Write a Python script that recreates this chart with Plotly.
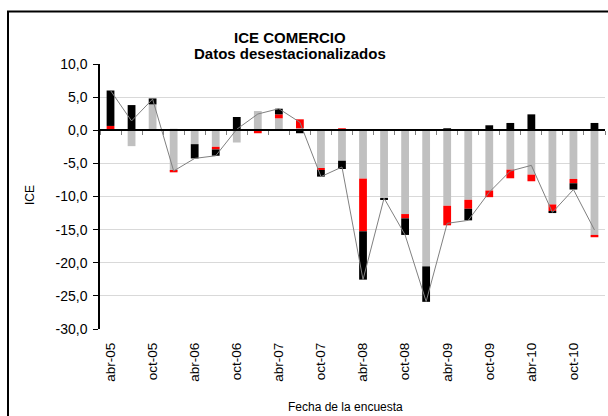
import plotly.graph_objects as go

# Quarterly survey dates (abr-05 ... ene-11)
quarters = ["abr-05", "jul-05", "oct-05", "ene-06", "abr-06", "jul-06", "oct-06", "ene-07",
            "abr-07", "jul-07", "oct-07", "ene-08", "abr-08", "jul-08", "oct-08", "ene-09",
            "abr-09", "jul-09", "oct-09", "ene-10", "abr-10", "jul-10", "oct-10", "ene-11"]

# Components (stacked bars)
gray_vals = [0.0, -2.4, 3.9, -6.1, -2.1, -2.5, -1.85, 2.9,
             1.8, 0.3, -5.7, -4.6, -7.3, -10.3, -12.65, -20.55,
             -11.4, -10.5, -9.1, -5.95, -6.7, -11.2, -7.35, -15.8]
red_vals = [0.65, 0.1, -0.1, -0.25, 0.0, -0.4, 0.0, -0.45,
            0.6, 1.35, -0.3, 0.3, -7.95, 0.15, -0.65, 0.05,
            -2.95, -1.35, -1.0, -1.3, -1.0, -1.0, -0.65, -0.35]
black_vals = [5.35, 3.7, 0.9, 0.2, -2.15, -0.95, 2.0, 0.0,
              0.85, -0.45, -1.0, -1.25, -7.3, -0.1, -2.5, -5.35,
              0.3, -1.75, 0.75, 1.1, 2.4, -0.3, -0.95, 1.1]
# ICE line
ice_vals = [6.0, 1.4, 4.7, -6.15, -4.25, -3.85, 0.15, 2.45,
            3.25, 1.2, -7.0, -5.55, -22.55, -10.25, -15.8, -25.85,
            -14.05, -13.6, -9.35, -6.15, -5.3, -12.4, -8.95, -15.05]

y_tickvals = [10, 5, 0, -5, -10, -15, -20, -25, -30]
y_ticktext = ["10,0", "5,0", "0,0", "-5,0", "-10,0", "-15,0", "-20,0", "-25,0", "-30,0"]

x_pos = list(range(len(quarters)))
label_idx = x_pos[::2]
label_text = [quarters[i] for i in label_idx]

FONT = "Liberation Sans, Arial, sans-serif"

fig = go.Figure()
fig.add_trace(go.Bar(x=x_pos, y=gray_vals, marker=dict(color="#C0C0C0", line=dict(width=0)),
                     showlegend=False, hoverinfo="skip"))
fig.add_trace(go.Bar(x=x_pos, y=red_vals, marker=dict(color="#FF0000", line=dict(width=0)),
                     showlegend=False, hoverinfo="skip"))
fig.add_trace(go.Bar(x=x_pos, y=black_vals, marker=dict(color="#000000", line=dict(width=0)),
                     showlegend=False, hoverinfo="skip"))
fig.add_trace(go.Scatter(x=x_pos, y=ice_vals, mode="lines", xaxis="x2",
                         line=dict(color="#808080", width=1), showlegend=False, hoverinfo="skip"))

PT, PB, PL, PR = 64, 329, 100, 605
def px_x(p):
    return (p - PL) / (PR - PL)
def px_y(p):
    return (PB - p) / (PB - PT)

fig.update_layout(
    width=608, height=416,
    margin=dict(l=100, r=3, t=64, b=87),
    paper_bgcolor="white", plot_bgcolor="white",
    barmode="relative", bargap=0.63,
    font=dict(family=FONT, color="black", size=13),
    xaxis=dict(range=[-0.5, 23.5], tickmode="array", tickvals=label_idx, ticktext=label_text,
               tickangle=-90, showgrid=False, zeroline=False, showline=False, ticks="",
               ticklabelstandoff=10, tickfont=dict(size=13.5)),
    xaxis2=dict(range=[-0.5, 23.5], overlaying="x", anchor="free", position=0.75,
                side="bottom", tickmode="array", tickvals=[i - 0.5 for i in range(25)],
                showticklabels=False, ticks="outside", ticklen=4, tickwidth=1, tickcolor="#808080",
                showline=True, linecolor="black", linewidth=1.5, showgrid=False, zeroline=False),
    yaxis=dict(range=[-30, 10], tickmode="array", tickvals=y_tickvals, ticktext=y_ticktext,
               showgrid=True, gridcolor="#D9D9D9", gridwidth=1, zeroline=False,
               showline=True, linecolor="black", linewidth=1.5,
               ticks="outside", ticklen=5, tickcolor="black", tickfont=dict(size=14),
               ticklabelstandoff=3),
    annotations=[
        dict(text="<b>ICE COMERCIO</b>", xref="paper", yref="paper", x=px_x(290), y=px_y(37),
             showarrow=False, xanchor="center", yanchor="middle", font=dict(size=15)),
        dict(text="<b>Datos desestacionalizados</b>", xref="paper", yref="paper", x=px_x(290),
             y=px_y(53), showarrow=False, xanchor="center", yanchor="middle", font=dict(size=15)),
        dict(text="ICE", xref="paper", yref="paper", x=px_x(30), y=px_y(195),
             textangle=-90, showarrow=False, xanchor="center", yanchor="middle",
             font=dict(size=12)),
        dict(text="Fecha de la encuesta", xref="paper", yref="paper", x=px_x(345),
             y=px_y(407), showarrow=False, xanchor="center", yanchor="middle",
             font=dict(size=12)),
    ],
    shapes=[dict(type="rect", xref="paper", yref="paper",
                 x0=px_x(8), x1=px_x(615), y0=px_y(425), y1=px_y(11.5),
                 line=dict(color="black", width=2), fillcolor="rgba(0,0,0,0)", layer="above")],
)

fig.write_html("out.html", config={"displayModeBar": False},
               post_script="document.body.style.margin='0';document.body.style.overflow='hidden';")
